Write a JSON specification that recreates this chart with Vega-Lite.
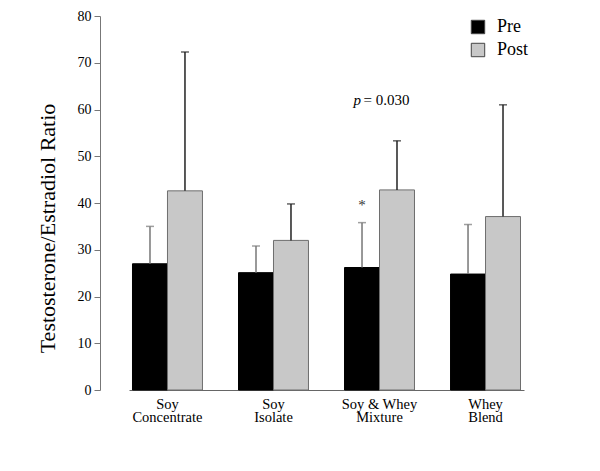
{
  "$schema": "https://vega.github.io/schema/vega-lite/v6.json",
  "width": 395,
  "height": 374,
  "autosize": {"type": "none"},
  "padding": {"left": 129, "top": 16, "right": 76, "bottom": 81},
  "data": {
    "values": [
      {"group": "Soy Concentrate", "time": "Pre", "mean": 27.0, "upper": 35.0},
      {"group": "Soy Concentrate", "time": "Post", "mean": 42.6, "upper": 72.3},
      {"group": "Soy Isolate", "time": "Pre", "mean": 25.1, "upper": 30.8},
      {"group": "Soy Isolate", "time": "Post", "mean": 32.0, "upper": 39.8},
      {"group": "Soy & Whey Mixture", "time": "Pre", "mean": 26.2, "upper": 35.8},
      {"group": "Soy & Whey Mixture", "time": "Post", "mean": 42.8, "upper": 53.3},
      {"group": "Whey Blend", "time": "Pre", "mean": 24.8, "upper": 35.4},
      {"group": "Whey Blend", "time": "Post", "mean": 37.1, "upper": 61.0}
    ]
  },
  "encoding": {
    "x": {
      "field": "group",
      "type": "nominal",
      "sort": ["Soy Concentrate", "Soy Isolate", "Soy & Whey Mixture", "Whey Blend"],
      "scale": {"paddingInner": 0.34, "paddingOuter": 0.033},
      "axis": {
        "title": null,
        "ticks": false,
        "labelAngle": 0,
        "labelPadding": 7,
        "labelFont": "Liberation Serif",
        "labelFontSize": 14.5,
        "labelLineHeight": 13,
        "labelColor": "#000",
        "labelOverlap": false,
        "domainColor": "#666",
        "labelExpr": "datum.label == 'Soy & Whey Mixture' ? ['Soy & Whey', 'Mixture'] : split(datum.label, ' ')"
      }
    },
    "xOffset": {
      "field": "time",
      "type": "nominal",
      "sort": ["Pre", "Post"],
      "scale": {"paddingInner": 0, "paddingOuter": 0}
    }
  },
  "layer": [
    {
      "mark": {"type": "bar", "strokeWidth": 1},
      "encoding": {
        "y": {
          "field": "mean",
          "type": "quantitative",
          "scale": {"domain": [0, 80], "nice": false},
          "axis": {
            "title": "Testosterone/Estradiol Ratio",
            "titleFont": "Liberation Serif",
            "titleFontSize": 22,
            "titleFontWeight": "normal",
            "titleColor": "#000",
            "titlePadding": 18,
            "titleY": 212,
            "offset": 29,
            "values": [0, 10, 20, 30, 40, 50, 60, 70, 80],
            "labelOverlap": false,
            "tickSize": 6,
            "tickColor": "#777",
            "domainColor": "#777",
            "labelFont": "Liberation Serif",
            "labelFontSize": 14,
            "labelColor": "#000",
            "labelPadding": 3,
            "grid": false
          }
        },
        "color": {
          "field": "time",
          "type": "nominal",
          "scale": {"domain": ["Pre", "Post"], "range": ["#000000", "#c8c8c8"]},
          "legend": {
            "title": null,
            "orient": "none",
            "legendX": 340,
            "legendY": 2,
            "padding": 0,
            "symbolType": "square",
            "symbolSize": 180,
            "symbolStrokeColor": "#444",
            "symbolStrokeWidth": 1,
            "labelFont": "Liberation Serif",
            "labelFontSize": 18,
            "labelColor": "#000",
            "labelOffset": 10,
            "rowPadding": 5
          }
        },
        "stroke": {
          "condition": {"test": "datum.time === 'Pre'", "value": "#000"},
          "value": "#6e6e6e"
        }
      }
    },
    {
      "mark": {"type": "rule", "strokeWidth": 1.5},
      "encoding": {
        "y": {"field": "mean", "type": "quantitative"},
        "y2": {"field": "upper"},
        "stroke": {
          "condition": {"test": "datum.time === 'Pre'", "value": "#777"},
          "value": "#222"
        }
      }
    },
    {
      "mark": {"type": "tick", "orient": "horizontal", "size": 8, "thickness": 1.5},
      "encoding": {
        "y": {"field": "upper", "type": "quantitative"},
        "color": {
          "condition": {"test": "datum.time === 'Pre'", "value": "#777"},
          "value": "#222"
        }
      }
    },
    {
      "data": {"values": [{"group": "Soy & Whey Mixture", "y": 62, "sign": "p", "rest": "= 0.030"}]},
      "mark": {"type": "text", "font": "Liberation Serif", "fontSize": 15, "fontStyle": "italic", "align": "left", "baseline": "middle", "dx": 9, "fill": "#000"},
      "encoding": {
        "xOffset": {"value": 0},
        "y": {"field": "y", "type": "quantitative"},
        "text": {"field": "sign"}
      }
    },
    {
      "data": {"values": [{"group": "Soy & Whey Mixture", "y": 62, "sign": "p", "rest": "= 0.030"}]},
      "mark": {"type": "text", "font": "Liberation Serif", "fontSize": 15, "align": "left", "baseline": "middle", "dx": 19, "fill": "#000"},
      "encoding": {
        "xOffset": {"value": 0},
        "y": {"field": "y", "type": "quantitative"},
        "text": {"field": "rest"}
      }
    },
    {
      "data": {"values": [{"group": "Soy & Whey Mixture", "time": "Pre", "y": 39.6, "star": "*"}]},
      "mark": {"type": "text", "font": "Liberation Serif", "fontSize": 15, "baseline": "middle", "color": "#333", "fill": "#333"},
      "encoding": {
        "y": {"field": "y", "type": "quantitative"},
        "text": {"field": "star"}
      }
    }
  ],
  "config": {
    "view": {"stroke": null},
    "font": "Liberation Serif"
  }
}
